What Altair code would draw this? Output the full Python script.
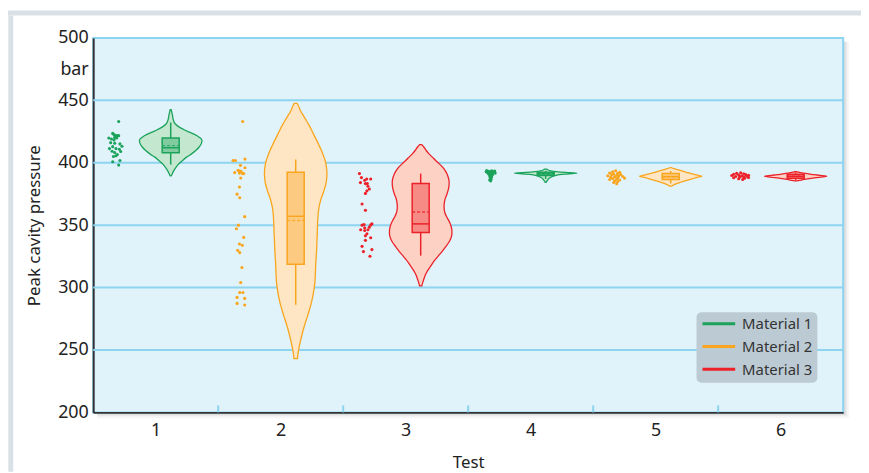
import altair as alt
import pandas as pd

# ---------------- data ----------------
TESTS = [1, 2, 3, 4, 5, 6]
MATERIALS = ["Material 1", "Material 2", "Material 3"]
TEST_MATERIAL = ["Material 1", "Material 2", "Material 3",
                 "Material 1", "Material 2", "Material 3"]
DARK = ["#1ba35b", "#f9a51d", "#ec2129"]
LIGHT = ["#c4e7cf", "#fee5c3", "#fdd1c3"]

Y_TICKS = [200, 250, 300, 350, 400, 450, 500]
UNIT_AT = 475
GRID_VALUES = [250, 300, 350, 400, 450]

# raw (jittered) observations: values and horizontal jitter (x-scale units)
PTS_1 = [433.0, 423.5, 422.5, 421.7, 421.7, 421.7, 420.3, 419.8, 419.8, 419.0,
         418.3, 416.1, 415.6, 415.1, 413.2, 412.9, 411.3, 411.3, 410.8, 409.2,
         409.0, 408.2, 406.6, 405.6, 405.0, 401.8, 400.8, 398.1]
JIT_1 = [0.024, -0.024, -0.013, -0.002, 0.013, 0.024, -0.008, 0.008, -0.055, -0.034,
         -0.013, -0.040, -0.008, 0.034, 0.050, -0.024, -0.050, 0.002, 0.029, -0.029,
         0.040, -0.008, 0.013, 0.002, -0.018, 0.034, -0.024, 0.024]
PTS_2 = [433.0, 402.9, 401.8, 401.8, 397.9, 396.0, 393.9, 393.1, 392.1, 391.7,
         391.3, 391.3, 393.4, 387.8, 380.6, 374.8, 371.9, 356.8, 350.0, 347.1,
         340.2, 334.9, 333.9, 329.8, 328.0, 316.1, 304.0, 296.0, 296.0, 292.1,
         291.3, 287.3, 286.0]
JIT_2 = [0.016, 0.034, -0.061, -0.042, -0.002, 0.034, -0.021, 0.002, -0.048, -0.010,
         0.016, 0.024, -0.008, 0.000, -0.010, -0.029, -0.008, 0.032, -0.018, -0.034,
         0.024, -0.010, 0.013, -0.024, -0.008, 0.010, 0.000, -0.008, 0.018, -0.029,
         0.032, -0.029, 0.032]
PTS_3 = [391.3, 388.1, 386.0, 387.0, 387.0, 384.1, 383.3, 383.3, 381.2, 379.0,
         377.5, 375.4, 366.9, 361.9, 350.0, 350.5, 350.2, 351.0, 347.9, 348.4,
         346.3, 345.7, 346.3, 343.1, 341.5, 339.9, 337.8, 333.0, 330.4, 328.8, 325.1]
JIT_3 = [-0.050, -0.034, -0.008, 0.008, 0.040, -0.042, -0.002, 0.013, 0.018, 0.029,
         0.010, -0.002, -0.029, -0.002, -0.029, -0.013, 0.040, 0.050, -0.008, 0.029,
         -0.040, -0.008, 0.018, 0.010, -0.002, 0.040, -0.002, -0.029, 0.050, -0.018, 0.034]
PTS_4 = [393.8, 393.5, 393.4, 393.2, 393.0, 392.8, 392.7, 392.5, 392.3, 392.1, 391.9,
         391.7, 391.4, 391.0, 390.6, 390.2, 389.6, 388.8, 387.9, 387.0, 386.2, 385.5]
JIT_4 = [-0.032, 0.008, 0.032, -0.016, 0.016, -0.036, 0.004, 0.028, -0.012, 0.012, -0.024,
         0.036, 0.000, -0.016, 0.016, 0.000, -0.008, 0.008, -0.004, 0.004, -0.008, 0.000]
PTS_5 = [393.6, 392.8, 392.4, 391.8, 391.5, 391.0, 390.6, 390.3, 390.0, 389.6, 389.3, 389.0,
         388.7, 388.4, 388.0, 387.7, 387.4, 387.0, 386.6, 386.2, 385.6, 385.0, 384.2, 383.2]
JIT_5 = [0.000, -0.024, 0.032, -0.048, 0.016, -0.016, 0.040, -0.032, 0.008, -0.063, 0.024, 0.056,
         -0.008, -0.040, 0.016, 0.071, -0.024, 0.008, -0.048, 0.032, -0.008, 0.016, -0.016, 0.008]
PTS_6 = [392.0, 391.5, 391.2, 390.8, 390.5, 390.2, 390.0, 389.8, 389.5, 389.3, 389.0,
         388.8, 388.5, 388.2, 388.0, 387.6, 387.2, 386.6]
JIT_6 = [0.000, -0.032, 0.024, -0.056, 0.040, -0.016, 0.063, -0.071, 0.008, 0.048, -0.040,
         0.024, -0.008, 0.063, -0.056, 0.032, -0.016, 0.016]
POINTS = [PTS_1, PTS_2, PTS_3, PTS_4, PTS_5, PTS_6]
JITTER = [JIT_1, JIT_2, JIT_3, JIT_4, JIT_5, JIT_6]

# box statistics per test
Q1 = [408.0, 318.7, 344.1, 389.7, 386.5, 387.5]
MEDIAN = [412.0, 357.1, 351.0, 391.0, 388.9, 389.1]
Q3 = [419.8, 392.3, 383.3, 392.3, 391.3, 390.7]
MEAN = [413.7, 353.7, 360.6, 391.2, 388.8, 389.2]
WHISK_LO = [398.5, 286.2, 325.6, 387.0, 383.5, 386.0]
WHISK_HI = [432.2, 402.6, 391.3, 393.6, 393.3, 392.3]

# violin profiles: pressure level and relative density
VY_1 = [442.5, 438.0, 434.0, 431.0, 428.3, 425.5, 422.7, 420.3, 418.0, 415.5, 412.4,
        410.0, 407.1, 404.5, 401.8, 399.0, 396.5, 393.5, 391.0, 389.4]
VD_1 = [0.5, 1.8, 2.8, 4.7, 9.0, 16.0, 24.0, 29.0, 31.5, 31.0, 28.5,
        25.5, 21.0, 16.0, 12.0, 8.0, 5.5, 3.0, 1.5, 0.5]
VY_2 = [447.5, 446.0, 441.5, 437.5, 433.6, 429.5, 425.6, 421.5, 417.7, 413.5, 409.8,
        405.5, 401.8, 396.5, 391.3, 387.0, 383.3, 379.5, 375.4, 371.5, 367.5, 362.0,
        356.9, 350.0, 343.7, 337.0, 330.4, 323.8, 317.1, 310.5, 304.0, 298.5, 293.3,
        288.0, 282.8, 277.5, 272.2, 267.0, 261.6, 256.3, 251.0, 247.0, 243.1]
VD_2 = [1.5, 2.5, 5.0, 8.0, 11.0, 14.0, 16.5, 19.0, 21.5, 24.0, 26.2,
        28.3, 30.0, 31.3, 31.8, 31.5, 30.8, 29.5, 27.8, 26.0, 24.6, 23.3,
        22.7, 22.2, 22.0, 21.6, 21.3, 20.8, 20.3, 20.0, 19.5, 18.6, 17.5,
        16.0, 14.2, 12.2, 10.0, 8.0, 6.2, 4.6, 3.2, 2.3, 1.8]
VY_3 = [414.5, 412.4, 409.8, 407.1, 404.5, 401.8, 399.1, 396.5, 393.9, 391.3, 388.6,
        386.0, 383.3, 380.6, 378.0, 375.4, 372.8, 370.1, 367.5, 364.8, 362.2, 359.5,
        356.9, 354.2, 351.5, 348.9, 346.3, 343.7, 341.0, 338.3, 335.7, 333.0, 330.4,
        327.8, 325.2, 322.5, 319.8, 317.1, 314.5, 311.9, 309.2, 306.6, 304.0, 301.3]
VD_3 = [1.0, 3.0, 5.0, 7.5, 10.5, 13.5, 16.8, 19.8, 22.0, 23.6, 24.8,
        25.5, 25.7, 25.4, 24.8, 23.9, 22.8, 21.8, 21.3, 21.1, 21.3, 22.0,
        23.3, 25.0, 26.5, 27.5, 28.1, 28.2, 27.8, 26.7, 25.0, 22.8, 20.6,
        18.3, 15.8, 13.3, 11.0, 9.0, 7.0, 5.2, 3.8, 2.8, 1.8, 1.0]
VY_4 = [394.9, 394.2, 393.6, 393.0, 392.5, 392.1, 391.8, 391.6, 391.3, 390.9, 390.4,
        389.9, 389.2, 388.4, 387.5, 386.5, 385.3, 384.3]
VD_4 = [1.0, 2.5, 4.5, 8.0, 15.0, 23.0, 29.0, 31.7, 27.0, 20.0, 14.0,
        10.5, 7.5, 5.2, 3.5, 2.3, 1.2, 0.5]
VY_5 = [396.0, 395.2, 394.4, 393.6, 392.8, 392.0, 391.3, 390.5, 389.7, 389.1, 388.6,
        388.1, 387.3, 386.5, 385.7, 384.9, 384.1, 383.3, 382.2, 381.2]
VD_5 = [0.8, 3.5, 7.0, 10.5, 14.0, 17.5, 21.0, 25.0, 29.0, 31.7, 29.0,
        26.0, 22.5, 19.0, 15.5, 12.0, 9.0, 6.0, 3.0, 0.8]
VY_6 = [392.8, 392.2, 391.7, 391.2, 390.7, 390.3, 389.9, 389.5, 389.1, 388.7, 388.3,
        387.8, 387.3, 386.9, 386.5, 385.9, 385.4]
VD_6 = [0.8, 4.0, 8.0, 12.0, 16.0, 20.5, 25.0, 29.0, 32.0, 28.0, 24.0,
        19.0, 14.0, 10.5, 7.5, 4.0, 0.8]
VIOLIN_Y = [VY_1, VY_2, VY_3, VY_4, VY_5, VY_6]
VIOLIN_D = [VD_1, VD_2, VD_3, VD_4, VD_5, VD_6]

# ---------------- layout constants ----------------
W, H = 757, 378
POINT_OFFSET = -0.32
VIOLIN_OFFSET = 0.12
VIOLIN_HALF = 0.25
BOX_HALF = 0.068
FONT = "Noto Sans"
GRID_COLOR = "#8dd4f1"
TEXT = "#222222"
LEG_X, LEG_Y, LEG_W, LEG_H, LEG_ROW = 609, 277, 122, 71, 23

# ---------------- tables ----------------
pt_rows, vi_rows, bx_rows = [], [], []
for i, t in enumerate(TESTS):
    m = TEST_MATERIAL[i]
    for v, j in zip(POINTS[i], JITTER[i]):
        pt_rows.append({"test": t, "material": m, "value": v,
                        "x": t + POINT_OFFSET + j})
    c = t + VIOLIN_OFFSET
    dmax = max(VIOLIN_D[i])
    prof = sorted(zip(VIOLIN_Y[i], VIOLIN_D[i]))
    for v, d in prof:
        w = d / dmax * VIOLIN_HALF
        vi_rows.append({"test": t, "material": m, "value": v,
                        "xl": c - w, "xr": c + w})
    bx_rows.append({"test": t, "material": m, "q1": Q1[i],
                    "med": MEDIAN[i], "q3": Q3[i], "mean": MEAN[i],
                    "lo": WHISK_LO[i], "hi": WHISK_HI[i], "xc": c,
                    "x1": c - BOX_HALF, "x2": c + BOX_HALF})
pts = pd.DataFrame(pt_rows)
vio = pd.DataFrame(vi_rows)
box = pd.DataFrame(bx_rows)
grid = pd.DataFrame({"g": GRID_VALUES})
bounds = pd.DataFrame({"b": [t + 0.5 for t in TESTS[:-1]]})

# ---------------- scales / axes ----------------
xscale = alt.Scale(domain=[TESTS[0] - 0.5, TESTS[-1] + 0.5], nice=False, zero=False)
yscale = alt.Scale(domain=[Y_TICKS[0], Y_TICKS[-1]], nice=False, zero=False)
xaxis = alt.Axis(values=TESTS, title="Test", ticks=False, grid=False,
                 labelFontSize=18, labelFont=FONT, labelColor=TEXT, labelPadding=9,
                 labelFlush=False, domainColor="#333333", domainWidth=2,
                 titleFont=FONT, titleFontSize=17, titleFontWeight="normal",
                 titleColor=TEXT, titlePadding=16)
yaxis = alt.Axis(values=Y_TICKS + [UNIT_AT], title="Peak cavity pressure",
                 labelExpr=f"datum.value == {UNIT_AT} ? 'bar' : datum.label",
                 ticks=False, grid=False, labelOverlap=False, labelFlush=False,
                 labelFontSize=18, labelFont=FONT, labelColor=TEXT, labelPadding=5,
                 domainColor="#333333", domainWidth=2,
                 titleFont=FONT, titleFontSize=17, titleFontWeight="normal",
                 titleColor=TEXT, titlePadding=14)

color_dark = alt.Scale(domain=MATERIALS, range=DARK)
color_light = alt.Scale(domain=MATERIALS, range=LIGHT)

one = alt.Data(values=[{}])

# ---------------- decorations ----------------
frame_top = alt.Chart(one).mark_rule(color="#dae1e6", strokeWidth=5).encode(
    x=alt.value(-86), x2=alt.value(W + 20), y=alt.value(-25.2))
frame_left = alt.Chart(one).mark_rule(color="#dae1e6", strokeWidth=5).encode(
    x=alt.value(-83.2), y=alt.value(-22.7), y2=alt.value(H + 60))

shadows = []
for (a, b, op) in [(1, 2.5, 0.22), (2.5, 4, 0.12), (4, 6, 0.05)]:
    shadows.append(alt.Chart(one).mark_rect(color="#555555", opacity=op).encode(
        x=alt.value(W + a), x2=alt.value(W + b), y=alt.value(4), y2=alt.value(H + b)))
    shadows.append(alt.Chart(one).mark_rect(color="#555555", opacity=op).encode(
        x=alt.value(4), x2=alt.value(W + a), y=alt.value(H + a), y2=alt.value(H + b)))

gridlines = alt.Chart(grid).mark_rule(color=GRID_COLOR, strokeWidth=2).encode(
    y=alt.Y("g:Q", scale=yscale, axis=yaxis), x=alt.value(0), x2=alt.value(W))

bticks = alt.Chart(bounds).mark_rule(color=GRID_COLOR, strokeWidth=2).encode(
    x=alt.X("b:Q", scale=xscale, axis=xaxis), y=alt.value(H - 7), y2=alt.value(H))

# ---------------- data layers ----------------
violins = alt.Chart(vio).mark_area(orient="horizontal", interpolate="monotone",
                                   strokeWidth=1.3).encode(
    y=alt.Y("value:Q", scale=yscale, axis=yaxis),
    x=alt.X("xl:Q", scale=xscale, axis=xaxis),
    x2="xr:Q",
    fill=alt.Fill("material:N", scale=color_light, legend=None),
    stroke=alt.Stroke("material:N", scale=color_dark, legend=None),
    detail="test:N",
)

whisk_hi = alt.Chart(box).mark_rule(strokeWidth=1.5).encode(
    x=alt.X("xc:Q", scale=xscale, axis=xaxis),
    y=alt.Y("q3:Q", scale=yscale, axis=yaxis), y2="hi:Q",
    color=alt.Color("material:N", scale=color_dark, legend=None))
whisk_lo = alt.Chart(box).mark_rule(strokeWidth=1.5).encode(
    x=alt.X("xc:Q", scale=xscale, axis=xaxis),
    y=alt.Y("lo:Q", scale=yscale, axis=yaxis), y2="q1:Q",
    color=alt.Color("material:N", scale=color_dark, legend=None))

boxes = alt.Chart(box).mark_rect(fillOpacity=0.4, strokeWidth=1.5).encode(
    x=alt.X("x1:Q", scale=xscale, axis=xaxis), x2="x2:Q",
    y=alt.Y("q1:Q", scale=yscale, axis=yaxis), y2="q3:Q",
    color=alt.Color("material:N", scale=color_dark, legend=None),
    stroke=alt.Stroke("material:N", scale=color_dark, legend=None))

medians = alt.Chart(box).mark_rule(strokeWidth=1.5).encode(
    x=alt.X("x1:Q", scale=xscale, axis=xaxis), x2="x2:Q",
    y=alt.Y("med:Q", scale=yscale, axis=yaxis),
    color=alt.Color("material:N", scale=color_dark, legend=None))

means = alt.Chart(box).mark_rule(strokeWidth=1.5, strokeDash=[3, 2], opacity=0.8).encode(
    x=alt.X("x1:Q", scale=xscale, axis=xaxis), x2="x2:Q",
    y=alt.Y("mean:Q", scale=yscale, axis=yaxis),
    color=alt.Color("material:N", scale=color_dark, legend=None))

points = alt.Chart(pts).mark_circle(size=10, opacity=1).encode(
    x=alt.X("x:Q", scale=xscale, axis=xaxis),
    y=alt.Y("value:Q", scale=yscale, axis=yaxis),
    color=alt.Color("material:N", scale=color_dark, legend=None))

# ---------------- legend (box, swatch lines, labels) ----------------
legend_layers = [alt.Chart(one).mark_rect(color="#bccad3", cornerRadius=5).encode(
    x=alt.value(LEG_X), x2=alt.value(LEG_X + LEG_W),
    y=alt.value(LEG_Y), y2=alt.value(LEG_Y + LEG_H))]
for i, (name, col) in enumerate(zip(MATERIALS, DARK)):
    ry = LEG_Y + 11.5 + i * LEG_ROW
    legend_layers.append(alt.Chart(one).mark_rule(strokeWidth=3).encode(
        x=alt.value(LEG_X + 6), x2=alt.value(LEG_X + 39), y=alt.value(ry),
        color=alt.value(col)))
    legend_layers.append(alt.Chart(one).mark_text(
        align="left", baseline="middle", font=FONT, fontSize=15,
        color="#333333").encode(
        x=alt.value(LEG_X + 46), y=alt.value(ry + 0.5), text=alt.value(name)))

chart = alt.layer(
    frame_top, frame_left, *shadows, gridlines, bticks,
    violins, whisk_hi, whisk_lo, boxes, medians, means, points, *legend_layers,
).properties(
    width=W, height=H,
    autosize=alt.AutoSizeParams(type="none"),
    padding={"left": 86, "top": 28, "right": 18, "bottom": 59},
    background="white",
).configure_view(
    fill="#e0f3fa", stroke=GRID_COLOR, strokeWidth=2,
)

chart.save("out.html", embed_options={"renderer": "svg", "actions": False})
